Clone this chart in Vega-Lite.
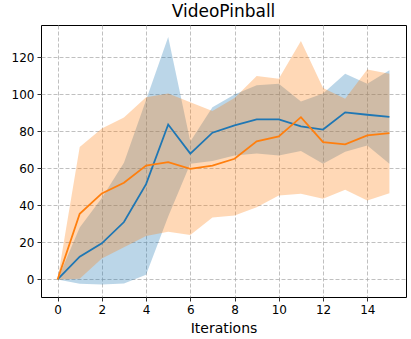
{
  "$schema": "https://vega.github.io/schema/vega-lite/v6.json",
  "autosize": "none",
  "width": 365,
  "height": 272,
  "padding": {"left": 41, "top": 25, "right": 5, "bottom": 42},
  "background": "white",
  "config": {
    "font": "DejaVu Sans",
    "view": {"stroke": "black", "strokeWidth": 1},
    "axis": {
      "domain": false,
      "grid": true,
      "gridColor": "#b0b0b0",
      "gridDash": [4, 2],
      "gridWidth": 0.8,
      "ticks": true,
      "tickColor": "black",
      "tickSize": 4,
      "tickWidth": 0.8,
      "labelColor": "black",
      "labelFont": "DejaVu Sans",
      "labelFontSize": 12,
      "labelPadding": 3,
      "titleFont": "DejaVu Sans",
      "titleFontSize": 14,
      "titleFontWeight": "normal",
      "titleColor": "black",
      "zindex": 1
    },
    "title": {"font": "DejaVu Sans", "fontSize": 17, "fontWeight": "normal", "color": "black", "offset": 4}
  },
  "title": "VideoPinball",
  "data": {
    "values": [
      {"x": 0, "run": "1", "mean": 0, "lo": 0, "hi": 0},
      {"x": 1, "run": "1", "mean": 12.3, "lo": -2.3, "hi": 28},
      {"x": 2, "run": "1", "mean": 19.5, "lo": -2.7, "hi": 44},
      {"x": 3, "run": "1", "mean": 31, "lo": -2.2, "hi": 63},
      {"x": 4, "run": "1", "mean": 51.5, "lo": 2.5, "hi": 97},
      {"x": 5, "run": "1", "mean": 83.7, "lo": 34, "hi": 131},
      {"x": 6, "run": "1", "mean": 68, "lo": 62.5, "hi": 74.5},
      {"x": 7, "run": "1", "mean": 79.3, "lo": 64, "hi": 93},
      {"x": 8, "run": "1", "mean": 83.2, "lo": 67, "hi": 100},
      {"x": 9, "run": "1", "mean": 86.5, "lo": 68, "hi": 105},
      {"x": 10, "run": "1", "mean": 86.5, "lo": 67, "hi": 105.8},
      {"x": 11, "run": "1", "mean": 82.7, "lo": 69.4, "hi": 96.2},
      {"x": 12, "run": "1", "mean": 81, "lo": 62.5, "hi": 100.5},
      {"x": 13, "run": "1", "mean": 90.3, "lo": 69, "hi": 111.2},
      {"x": 14, "run": "1", "mean": 89, "lo": 72.4, "hi": 105.8},
      {"x": 15, "run": "1", "mean": 87.9, "lo": 62.5, "hi": 113},
      {"x": 0, "run": "2", "mean": 0, "lo": 0, "hi": 0},
      {"x": 1, "run": "2", "mean": 35.5, "lo": 0.4, "hi": 71.5},
      {"x": 2, "run": "2", "mean": 46.5, "lo": 11.3, "hi": 81.5},
      {"x": 3, "run": "2", "mean": 52.2, "lo": 17.4, "hi": 87.5},
      {"x": 4, "run": "2", "mean": 61.5, "lo": 23.5, "hi": 98.5},
      {"x": 5, "run": "2", "mean": 63.4, "lo": 25.8, "hi": 100.5},
      {"x": 6, "run": "2", "mean": 59.8, "lo": 24, "hi": 95.8},
      {"x": 7, "run": "2", "mean": 61.5, "lo": 33.5, "hi": 91},
      {"x": 8, "run": "2", "mean": 65.2, "lo": 34.6, "hi": 98},
      {"x": 9, "run": "2", "mean": 74.6, "lo": 39, "hi": 110},
      {"x": 10, "run": "2", "mean": 77.3, "lo": 45.4, "hi": 108.5},
      {"x": 11, "run": "2", "mean": 87.7, "lo": 46.3, "hi": 128.8},
      {"x": 12, "run": "2", "mean": 74.2, "lo": 43.6, "hi": 103.5},
      {"x": 13, "run": "2", "mean": 73, "lo": 48.5, "hi": 97.7},
      {"x": 14, "run": "2", "mean": 77.8, "lo": 42.7, "hi": 113.5},
      {"x": 15, "run": "2", "mean": 79.1, "lo": 46.6, "hi": 111.2}
    ]
  },
  "layer": [
    {
      "mark": {"type": "area", "orient": "vertical", "fillOpacity": 0.3, "strokeWidth": 0},
      "encoding": {
        "x": {
          "field": "x",
          "type": "quantitative",
          "scale": {"domain": [-0.75, 15.75], "nice": false, "zero": false},
          "axis": {"values": [0, 2, 4, 6, 8, 10, 12, 14], "title": "Iterations", "titlePadding": 6}
        },
        "y": {
          "field": "lo",
          "type": "quantitative",
          "stack": null,
          "scale": {"domain": [-9.5, 137.5], "nice": false, "zero": false},
          "axis": {"values": [0, 20, 40, 60, 80, 100, 120], "title": null}
        },
        "y2": {"field": "hi"},
        "fill": {
          "field": "run",
          "type": "nominal",
          "scale": {"domain": ["1", "2"], "range": ["#1f77b4", "#ff7f0e"]},
          "legend": null
        }
      }
    },
    {
      "mark": {"type": "line", "strokeWidth": 1.8},
      "encoding": {
        "x": {"field": "x", "type": "quantitative"},
        "y": {"field": "mean", "type": "quantitative"},
        "stroke": {
          "field": "run",
          "type": "nominal",
          "scale": {"domain": ["1", "2"], "range": ["#1f77b4", "#ff7f0e"]},
          "legend": null
        }
      }
    }
  ]
}
